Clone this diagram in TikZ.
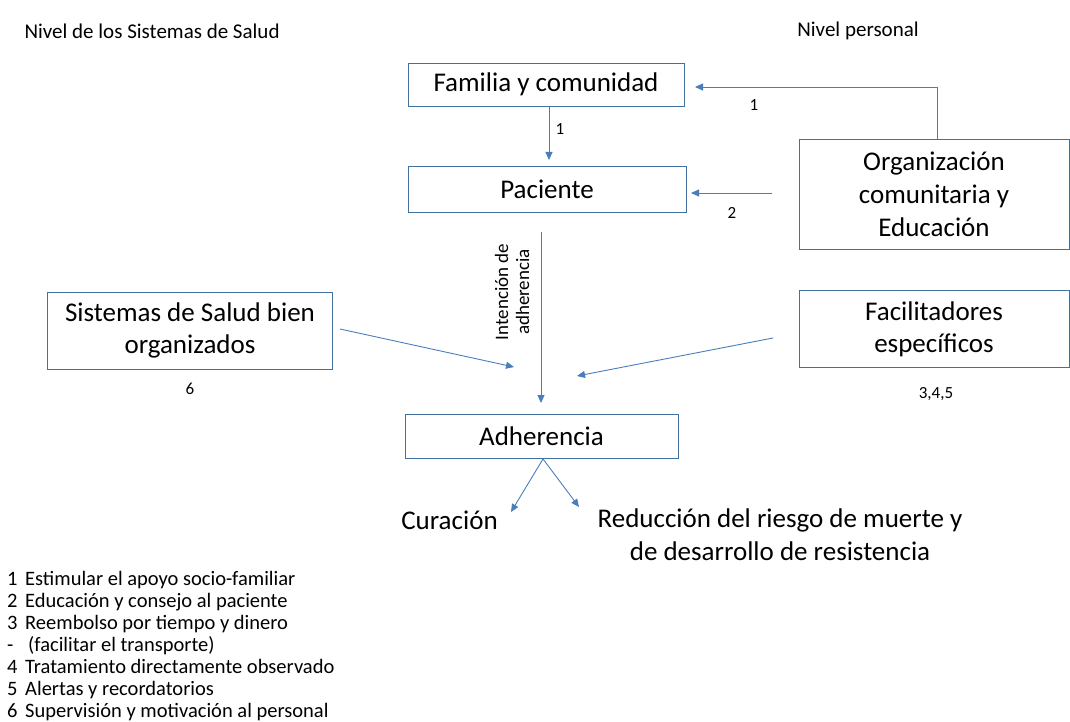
\documentclass[tikz,border=0pt]{standalone}
\usepackage{fontspec}
\setmainfont{Carlito}
\usetikzlibrary{arrows.meta}
\definecolor{boxc}{HTML}{41719C}
\definecolor{arrc}{HTML}{4A7EBB}
\begin{document}
\begin{tikzpicture}[x=1pt,y=-1pt,
  box/.style={draw=boxc, line width=0.8pt, align=center, font=\fontsize{27}{32}\selectfont, inner sep=0pt},
  conn/.style={draw=arrc, line width=0.9pt, -{Triangle[length=8pt,width=7pt]}},
  lbl/.style={font=\fontsize{17}{20}\selectfont},
  head/.style={font=\fontsize{21}{25}\selectfont},
  big/.style={font=\fontsize{27}{33}\selectfont, align=center},
  leg/.style={font=\fontsize{20.5}{22}\selectfont, anchor=base west, inner sep=0pt}]
\path[use as bounding box, fill=white] (0,0) rectangle (1070,722);

\node[head, anchor=west] (h1) at (21,31) {Nivel de los Sistemas de Salud};
\node[head] (h2) at (858,31) {Nivel personal};

\node[box, minimum width=276pt, minimum height=43pt] (fam) at (546,84.5) {Familia y comunidad};
\node[box, minimum width=278pt, minimum height=46pt] (pac) at (547,189.5) {Paciente};
\node[box, minimum width=270pt, minimum height=110pt, font=\fontsize{27}{33}\selectfont] (org) at (934,194) {Organización\\comunitaria y\\Educación};
\node[box, minimum width=285pt, minimum height=77pt] (sis) at (190,330.5) {Sistemas de Salud bien\\organizados};
\node[box, minimum width=270pt, minimum height=77pt] (fac) at (934,329) {Facilitadores\\específicos};
\node[box, minimum width=273pt, minimum height=44pt] (adh) at (541.5,436) {Adherencia};

\node[big] (cur) at (449.5,520) {Curación};
\node[big] (red) at (780,535) {Reducción del riesgo de muerte y\\de desarrollo de resistencia};

% coordinates
\coordinate (famout) at (549,106);
\coordinate (pacin) at (549,160);
\coordinate (orgtop) at (937,139);
\coordinate (famin) at (695,87);
\coordinate (orgl) at (772,193);
\coordinate (pacin2) at (691,193);
\coordinate (pacout) at (541,232);
\coordinate (adhin) at (541,403);
\coordinate (sisout) at (340,329);
\coordinate (sisend) at (514,367);
\coordinate (facout) at (773,338);
\coordinate (facend) at (577,376);
\coordinate (adhout) at (543,459);
\coordinate (curend) at (511,512);
\coordinate (redend) at (579,507);

\draw[conn] (famout) -- (pacin);
\draw[conn] (orgtop) |- (famin);
\draw[conn] (orgl) -- (pacin2);
\draw[conn] (pacout) -- (adhin);
\draw[conn] (sisout) -- (sisend);
\draw[conn] (facout) -- (facend);
\draw[conn] (adhout) -- (curend);
\draw[conn] (adhout) -- (redend);

\node[lbl] (l1) at (560,129) {1};
\node[lbl] (l2) at (754,105) {1};
\node[lbl] (l3) at (732,213) {2};
\node[lbl] (l4) at (190,389) {6};
\node[lbl] (l5) at (936,394) {3,4,5};
\node[font=\fontsize{19}{21}\selectfont, rotate=90, align=center] (int) at (512,292) {Intención de\\adherencia};

\node[leg] (g1) at (7,585) {\makebox[18pt][l]{1}Estimular el apoyo socio-familiar};
\node[leg] (g2) at (7,607) {\makebox[18pt][l]{2}Educación y consejo al paciente};
\node[leg] (g3) at (7,629) {\makebox[18pt][l]{3}Reembolso por tiempo y dinero};
\node[leg] (g4) at (7,651) {\makebox[21pt][l]{-}(facilitar el transporte)};
\node[leg] (g5) at (7,673) {\makebox[18pt][l]{4}Tratamiento directamente observado};
\node[leg] (g6) at (7,695) {\makebox[18pt][l]{5}Alertas y recordatorios};
\node[leg] (g7) at (7,717) {\makebox[18pt][l]{6}Supervisión y motivación al personal};
\end{tikzpicture}
\end{document}
